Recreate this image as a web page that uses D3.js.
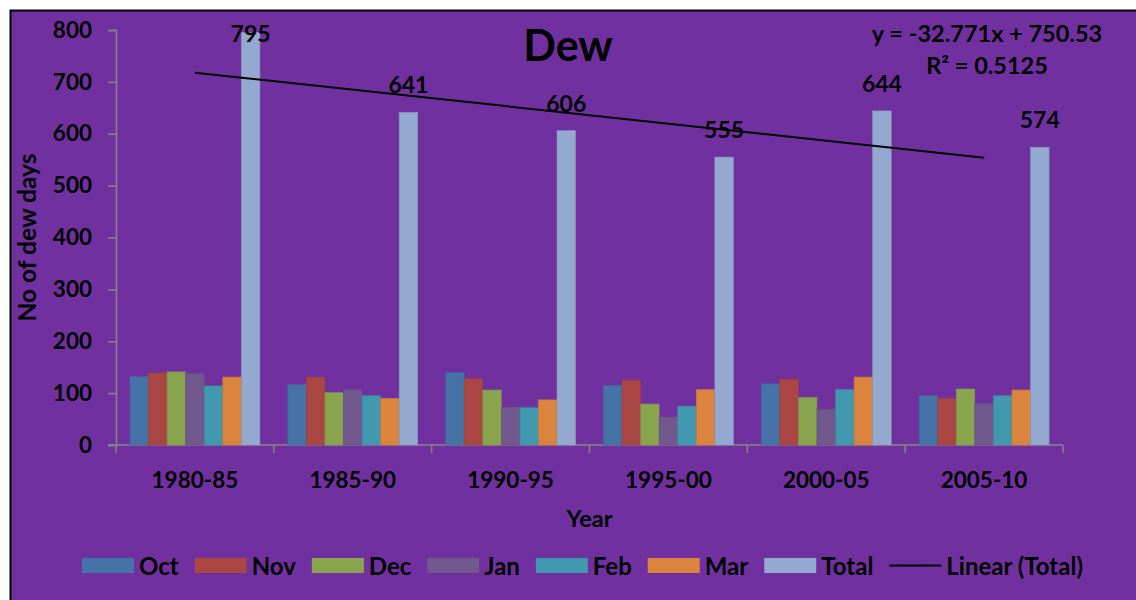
<!DOCTYPE html>
<html>
<head>
<meta charset="utf-8">
<script src="https://cdn.jsdelivr.net/npm/d3@7"></script>
<style>
  body { margin: 0; background: #fff; }
  text { font-family: Lato, "Open Sans", sans-serif; font-weight: bold; fill: #000; }
</style>
</head>
<body>
<svg width="1136" height="600"></svg>
<script>
// chart data
const periods = ['1980-85', '1985-90', '1990-95', '1995-00', '2000-05', '2005-10'];
const seriesNames = ['Oct', 'Nov', 'Dec', 'Jan', 'Feb', 'Mar', 'Total'];
const octValues = [132, 117, 140, 115, 118, 95];
const novValues = [139, 131, 128, 125, 127, 90];
const decValues = [141, 101, 106, 79, 92, 108];
const janValues = [138, 107, 73, 54, 69, 80];
const febValues = [114, 95, 72, 75, 107, 95];
const marValues = [131, 90, 87, 107, 131, 106];
const totalValues = [795, 641, 606, 555, 644, 574];
const yTicks = [0, 100, 200, 300, 400, 500, 600, 700, 800];
const trendSlope = -32.771;
const trendIntercept = 750.53;
const trendLabel = 'y = -32.771x + 750.53';
const r2Label = 'R² = 0.5125';
const colors = ['#4572A7', '#AA4643', '#89A54E', '#71588F', '#4198AF', '#DB843D', '#93A9CF'];

const seriesValues = [octValues, novValues, decValues, janValues, febValues, marValues, totalValues];

function whenLoaded() {
    const svg = d3.select('svg');
    const width = +svg.attr('width');
    const height = +svg.attr('height');

    const plot = {left: 116, right: 1063, top: 30, bottom: 445};

    // chart area
    svg.append('rect')
        .attr('x', 10.5).attr('y', 10.5)
        .attr('width', width).attr('height', height)
        .attr('fill', '#7030A0')
        .attr('stroke', '#000')
        .attr('stroke-width', 2);

    const x0 = d3.scaleBand()
        .domain(periods)
        .range([plot.left, plot.right]);

    const bw = x0.bandwidth();
    const pad = bw * 0.75 / 8.5;
    const x1 = d3.scaleBand()
        .domain(seriesNames)
        .range([pad, bw - pad]);

    const yScale = d3.scaleLinear()
        .domain([0, 800])
        .range([plot.bottom, plot.top]);

    const axisColor = '#868686';

    // y axis
    const yAxisG = svg.append('g')
        .attr('transform', `translate(${plot.left},0)`)
        .call(d3.axisLeft(yScale).tickValues(yTicks).tickSize(8).tickPadding(16));
    yAxisG.select('.domain').attr('stroke', axisColor).attr('stroke-width', 1.5);
    yAxisG.selectAll('.tick line').attr('stroke', axisColor).attr('stroke-width', 1.5);
    yAxisG.selectAll('.tick text')
        .attr('fill', '#000')
        .style('font-size', '22.5px')
        .style('font-family', 'Lato, sans-serif')
        .style('font-weight', 'bold');

    // x axis: line, boundary ticks, centred labels
    const xAxisG = svg.append('g');
    xAxisG.append('line')
        .attr('x1', plot.left - 8).attr('x2', plot.right)
        .attr('y1', plot.bottom).attr('y2', plot.bottom)
        .attr('stroke', axisColor).attr('stroke-width', 1.5);
    const bounds = periods.map(p => x0(p)).concat([x0(periods[periods.length - 1]) + bw]);
    xAxisG.selectAll('.xt').data(bounds).enter().append('line')
        .attr('x1', d => d).attr('x2', d => d)
        .attr('y1', plot.bottom).attr('y2', plot.bottom + 8)
        .attr('stroke', axisColor).attr('stroke-width', 1.5);
    xAxisG.selectAll('.xl').data(periods).enter().append('text')
        .attr('x', d => x0(d) + bw / 2)
        .attr('y', 488)
        .attr('text-anchor', 'middle')
        .style('font-size', '22.5px')
        .text(d => d);

    // bars
    const groups = svg.append('g').selectAll('g')
        .data(periods).enter().append('g')
        .attr('transform', d => `translate(${x0(d)},0)`);

    groups.selectAll('rect')
        .data((p, i) => seriesNames.map((s, j) => ({s, j, v: seriesValues[j][i]})))
        .enter().append('rect')
        .attr('x', d => x1(d.s))
        .attr('width', x1.bandwidth())
        .attr('y', d => yScale(d.v))
        .attr('height', d => yScale(0) - yScale(d.v))
        .attr('fill', d => colors[d.j])
        .attr('stroke', d => d3.color(colors[d.j]).darker(0.3))
        .attr('stroke-width', 0.6);

    // total labels
    svg.append('g').selectAll('text')
        .data(periods).enter().append('text')
        .attr('x', d => x0(d) + x1('Total') + x1.bandwidth() / 2)
        .attr('y', (d, i) => Math.max(yScale(totalValues[i]) - 19, 42))
        .attr('text-anchor', 'middle')
        .style('font-size', '23px')
        .text((d, i) => totalValues[i]);

    // linear trend of totals
    const xFirst = x0(periods[0]) + bw / 2;
    const xLast = x0(periods[periods.length - 1]) + bw / 2;
    svg.append('line')
        .attr('x1', xFirst).attr('y1', yScale(trendSlope * 1 + trendIntercept))
        .attr('x2', xLast).attr('y2', yScale(trendSlope * periods.length + trendIntercept))
        .attr('stroke', '#000').attr('stroke-width', 2);

    svg.append('text')
        .attr('x', 987).attr('y', 42)
        .attr('text-anchor', 'middle')
        .style('font-size', '23.5px')
        .text(trendLabel);
    svg.append('text')
        .attr('x', 987).attr('y', 74)
        .attr('text-anchor', 'middle')
        .style('font-size', '23.5px')
        .text(r2Label);

    // title
    svg.append('text')
        .attr('x', 568).attr('y', 61)
        .attr('text-anchor', 'middle')
        .style('font-size', '43px')
        .text('Dew');

    // axis titles
    svg.append('text')
        .attr('x', (plot.left + plot.right) / 2).attr('y', 527)
        .attr('text-anchor', 'middle')
        .style('font-size', '23.5px')
        .text('Year');
    svg.append('text')
        .attr('transform', `translate(36,${(plot.top + plot.bottom) / 2}) rotate(-90)`)
        .attr('text-anchor', 'middle')
        .style('font-size', '24.5px')
        .text('No of dew days');

    // legend, spread across the same span as the reference
    const legend = svg.append('g');
    const items = seriesNames.map((s, i) => ({name: s, color: colors[i], type: 'rect'}))
        .concat([{name: 'Linear (Total)', color: '#000', type: 'line'}]);
    const legendLeft = 82, legendRight = 1083;
    const texts = items.map(it => legend.append('text')
        .attr('y', 575)
        .style('font-size', '24px')
        .text(it.name));
    const widths = texts.map(t => t.node().getComputedTextLength());
    const fixed = d3.sum(widths) + items.length * 57;
    const gap = (legendRight - legendLeft - fixed) / (items.length - 1);
    let lx = legendLeft;
    items.forEach((it, i) => {
        if (it.type === 'rect') {
            legend.append('rect')
                .attr('x', lx).attr('y', 558)
                .attr('width', 52).attr('height', 15)
                .attr('fill', it.color);
        } else {
            legend.append('line')
                .attr('x1', lx).attr('x2', lx + 52)
                .attr('y1', 565.5).attr('y2', 565.5)
                .attr('stroke', it.color).attr('stroke-width', 2);
        }
        texts[i].attr('x', lx + 57);
        lx += 57 + widths[i] + gap;
    });
}

window.onload = whenLoaded;
</script>
</body>
</html>
